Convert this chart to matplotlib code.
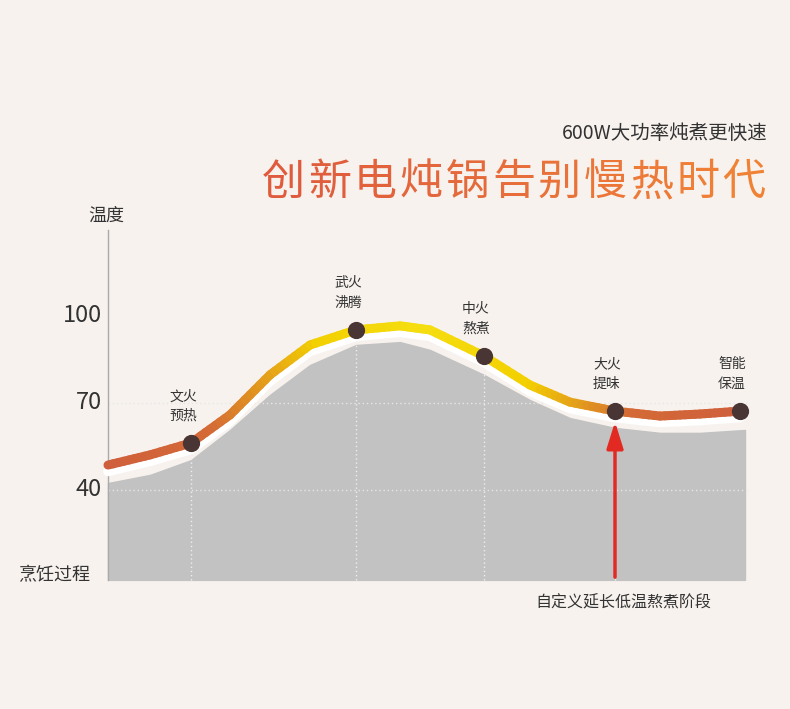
import matplotlib.pyplot as plt
import numpy as np
from matplotlib.collections import LineCollection
from matplotlib.colors import LinearSegmentedColormap

plt.rcParams['font.family'] = ['Noto Sans CJK SC', 'DejaVu Sans']

# temperature curve (x in px, y in degrees)
curve_x = [108, 150, 191, 230, 270, 310, 356, 400, 430, 484, 530, 570, 615, 660, 700, 740]
curve_y = [48.6, 52.1, 56.2, 65.9, 79.7, 90.0, 95.2, 96.6, 95.2, 86.2, 76.2, 70.3, 67.2, 65.5, 66.2, 67.2]
# grey area under curve
area_x = [108, 150, 191, 230, 270, 310, 356, 400, 430, 484, 530, 570, 615, 660, 700, 745]
area_y = [42.4, 45.2, 50.3, 60.7, 72.8, 83.1, 90.0, 91.0, 88.3, 79.7, 71.0, 64.8, 61.4, 59.7, 59.7, 60.7]

stage_x = [191, 356, 484, 615, 740]
stage_y = [56.2, 95.2, 86.2, 67.2, 67.2]
stage_labels = ['文火\n预热', '武火\n沸腾', '中火\n熬煮', '大火\n提味', '智能\n保温']
yticks = [40, 70, 100]

base = 9.0
bg = '#f7f2ee'

fig = plt.figure(figsize=(7.9, 7.09), dpi=100, facecolor=bg)
ax = fig.add_axes([0, 0, 1, 1])
ax.set_facecolor(bg)
ax.set_xlim(0, 790)
ax.set_ylim(70 - 306 / 2.9, 70 + 403 / 2.9)
ax.axis('off')

ax.fill_between(area_x, area_y, base, color='#c2c2c2', zorder=1)
for t in yticks[:2]:
    ax.plot([108, 748], [t, t], ls=(0, (1, 2)), color='#e6e6e6', lw=1, zorder=2)
for sx, sy in zip(stage_x[:4], stage_y[:4]):
    ax.plot([sx, sx], [base, sy], ls=(0, (1, 2)), color='#eeeeee', lw=1, zorder=2)
ax.plot([108, 108], [base, 129.7], color='#aaaaaa', lw=1, zorder=2)

# white halo under the line
ax.plot(curve_x, np.array(curve_y) - 2.2, color='white', lw=7, solid_capstyle='round',
        solid_joinstyle='round', zorder=3)

# split each segment into pieces only to get a smooth colour gradient
cmap = LinearSegmentedColormap.from_list('c', ['#cf5f3c', '#d46a36', '#f3d000', '#f5de10', '#f3d000', '#d46a36', '#cf5f3c'])
segs, cvals = [], []
for i in range(len(curve_x) - 1):
    for k in range(8):
        a, b = k / 8, (k + 1) / 8
        x0 = curve_x[i] + a * (curve_x[i + 1] - curve_x[i])
        x1 = curve_x[i] + b * (curve_x[i + 1] - curve_x[i])
        y0 = curve_y[i] + a * (curve_y[i + 1] - curve_y[i])
        y1 = curve_y[i] + b * (curve_y[i + 1] - curve_y[i])
        segs.append([(x0, y0), (x1, y1)])
        cvals.append(((x0 + x1) / 2 - 108) / (740 - 108))
lc = LineCollection(segs, cmap=cmap, lw=6.5, capstyle='round', joinstyle='round', zorder=4)
lc.set_array(np.array(cvals))
lc.set_clim(0, 1)
ax.add_collection(lc)

ax.scatter(stage_x, stage_y, s=130, color='#4a3535', zorder=5)
for sx, sy, lab in zip(stage_x, stage_y, stage_labels):
    ax.text(sx - 8, sy + 7, lab, ha='center', va='bottom', fontsize=10, color='#333333', linespacing=1.5)

ax.annotate('', xy=(615, 64.5), xytext=(615, base),
            arrowprops=dict(arrowstyle='-|>,head_width=0.5,head_length=1.6', color='#e32a22', lw=2.5), zorder=6)

for t in yticks:
    ax.text(102, t, str(t), ha='right', va='center', fontsize=17, color='#333333')
ax.text(88, 129.7 + 5, '温度', ha='left', va='center', fontsize=13, color='#333333')
ax.text(18, 70 + (403 - 575) / 2.9, '烹饪过程', ha='left', va='center', fontsize=13, color='#333333')
ax.text(535, 70 + (403 - 603) / 2.9, '自定义延长低温熬煮阶段', ha='left', va='center', fontsize=11.5, color='#333333')

ax.text(768, 70 + (403 - 133) / 2.9, '600W大功率炖煮更快速', ha='right', va='center', fontsize=14, color='#333333')
title = '创新电炖锅告别慢热时代'
tcols = ['#e05a3c', '#e05e3c', '#e2623c', '#e4663c', '#e56a3b', '#e76e3a', '#e97239', '#eb7638', '#ed7a37', '#ef7e36', '#f08235']
step = 46
xpos = 768 - step * len(title)
for i, ch in enumerate(title):
    ax.text(xpos + step * i, 70 + (403 - 183) / 2.9, ch, ha='left', va='center', fontsize=31,
            color=tcols[i], fontweight='medium')

fig.savefig('out.png', dpi=100, facecolor=bg)
